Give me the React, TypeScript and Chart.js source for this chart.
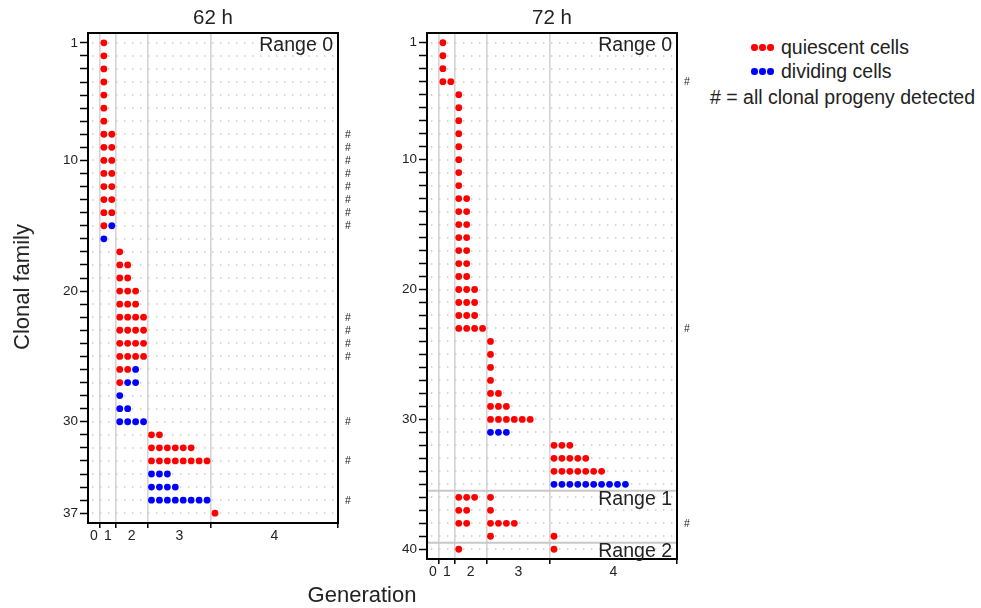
import React, { useEffect, useRef } from 'react';
import { Chart, registerables } from 'chart.js';

Chart.register(...registerables);

const FONT = '"Liberation Sans", Arial, Helvetica, sans-serif';
const TEXT = '#222222';
const QUIESCENT_COLOR = '#ff0000';
const DIVIDING_COLOR = '#0000ff';

// Generation axis: each generation gets room for 2^g cells
const GENERATIONS = [0, 1, 2, 3, 4];
const GEN_CAPACITY = [1, 2, 4, 8, 16];
const X_MIN = -1.5;

// ---- 62 h ----
const family62 = [1, 2, 3, 4, 5, 6, 7, 8, 9, 10, 11, 12, 13, 14, 15, 16, 17, 18, 19, 20, 21, 22, 23, 24, 25, 26, 27, 28, 29, 30, 31, 32, 33, 34, 35, 36, 37];
const gen62 = [1, 1, 1, 1, 1, 1, 1, 1, 1, 1, 1, 1, 1, 1, 1, 1, 2, 2, 2, 2, 2, 2, 2, 2, 2, 2, 2, 2, 2, 2, 3, 3, 3, 3, 3, 3, 4];
const quiescent62 = [1, 1, 1, 1, 1, 1, 1, 2, 2, 2, 2, 2, 2, 2, 1, 0, 1, 2, 2, 3, 3, 4, 4, 4, 4, 2, 1, 0, 0, 0, 2, 6, 8, 0, 0, 0, 1];
const dividing62 = [0, 0, 0, 0, 0, 0, 0, 0, 0, 0, 0, 0, 0, 0, 1, 1, 0, 0, 0, 0, 0, 0, 0, 0, 0, 1, 2, 1, 2, 4, 0, 0, 0, 3, 4, 8, 0];
const complete62 = [8, 9, 10, 11, 12, 13, 14, 15, 22, 23, 24, 25, 30, 33, 36];
const yLabels62 = [1, 10, 20, 30, 37];
const ranges62 = [{ name: 'Range 0', start: 1 }];

// ---- 72 h ----
const family72 = [1, 2, 3, 4, 5, 6, 7, 8, 9, 10, 11, 12, 13, 14, 15, 16, 17, 18, 19, 20, 21, 22, 23, 24, 25, 26, 27, 28, 29, 30, 31, 32, 33, 34, 35, 36, 36, 37, 37, 38, 38, 39, 39, 40, 40];
const gen72 = [1, 1, 1, 1, 2, 2, 2, 2, 2, 2, 2, 2, 2, 2, 2, 2, 2, 2, 2, 2, 2, 2, 2, 3, 3, 3, 3, 3, 3, 3, 3, 4, 4, 4, 4, 2, 3, 2, 3, 2, 3, 3, 4, 2, 4];
const quiescent72 = [1, 1, 1, 2, 1, 1, 1, 1, 1, 1, 1, 1, 2, 2, 2, 2, 2, 2, 2, 3, 3, 3, 4, 1, 1, 1, 1, 2, 3, 6, 0, 3, 5, 7, 0, 3, 1, 2, 1, 2, 4, 1, 1, 1, 1];
const dividing72 = [0, 0, 0, 0, 0, 0, 0, 0, 0, 0, 0, 0, 0, 0, 0, 0, 0, 0, 0, 0, 0, 0, 0, 0, 0, 0, 0, 0, 0, 0, 3, 0, 0, 0, 10, 0, 0, 0, 0, 0, 0, 0, 0, 0, 0];
const complete72 = [4, 23, 38];
const yLabels72 = [1, 10, 20, 30, 40];
const ranges72 = [
  { name: 'Range 0', start: 1 },
  { name: 'Range 1', start: 36 },
  { name: 'Range 2', start: 40 },
];

const genStart = (g: number) => GEN_CAPACITY.slice(0, g).reduce((s, v) => s + v, 0) - 1;
const genEnd = (g: number) => genStart(g) + GEN_CAPACITY[g];
const X_MAX = genEnd(GENERATIONS.length - 1);
const BOUNDARIES = GENERATIONS.map(genEnd);
const LABEL_POS = GENERATIONS.map((g) => (g === 0 ? (X_MIN + genEnd(0)) / 2 : (genStart(g) + genEnd(g)) / 2));

type PanelSpec = {
  title: string;
  family: number[];
  gen: number[];
  quiescent: number[];
  dividing: number[];
  complete: number[];
  yLabels: number[];
  ranges: { name: string; start: number }[];
};

function buildPoints(spec: PanelSpec) {
  const q: { x: number; y: number }[] = [];
  const d: { x: number; y: number }[] = [];
  spec.family.forEach((f, i) => {
    const start = genStart(spec.gen[i]);
    const total = spec.quiescent[i] + spec.dividing[i];
    for (let k = 0; k < total; k++) {
      const p = { x: start + k + 0.5, y: f };
      (k < spec.quiescent[i] ? q : d).push(p);
    }
  });
  return { q, d };
}

function makeDecor(spec: PanelSpec, nRows: number) {
  return {
    id: 'panelDecor',
    beforeDatasetsDraw(chart: any) {
      const { ctx, chartArea: a, scales } = chart;
      const y = scales.y;
      ctx.save();
      // dotted row guides
      ctx.fillStyle = '#c6c6c6';
      for (let r = 1; r <= nRows; r++) {
        const py = Math.round(y.getPixelForValue(r));
        for (let px = a.left + 4; px < a.right - 2; px += 8) {
          ctx.fillRect(px, py - 0.7, 1.4, 1.4);
        }
      }
      // range separators
      ctx.strokeStyle = '#c8c8c8';
      ctx.lineWidth = 2;
      spec.ranges.slice(1).forEach((rg) => {
        const py = y.getPixelForValue(rg.start - 0.5);
        ctx.beginPath();
        ctx.moveTo(a.left, py);
        ctx.lineTo(a.right, py);
        ctx.stroke();
      });
      ctx.restore();
    },
    afterDatasetsDraw(chart: any) {
      const { ctx, chartArea: a, scales } = chart;
      const y = scales.y;
      ctx.save();
      // frame
      ctx.strokeStyle = '#000';
      ctx.lineWidth = 2;
      ctx.strokeRect(a.left, a.top, a.right - a.left, a.bottom - a.top);
      // complete-progeny marks
      ctx.fillStyle = TEXT;
      ctx.font = `10.5px ${FONT}`;
      ctx.textAlign = 'left';
      ctx.textBaseline = 'middle';
      spec.complete.forEach((f) => {
        ctx.fillText('#', a.right + 7, y.getPixelForValue(f) + 0.5);
      });
      // range names
      ctx.font = `19.5px ${FONT}`;
      ctx.textAlign = 'right';
      spec.ranges.forEach((rg) => {
        ctx.fillText(rg.name, a.right - 5, y.getPixelForValue(rg.start) + 2.5);
      });
      // panel title
      ctx.font = `20.5px ${FONT}`;
      ctx.textAlign = 'center';
      ctx.fillText(spec.title, (a.left + a.right) / 2, 18);
      ctx.restore();
    },
  };
}

function Panel({ spec, left, width, padding }: { spec: PanelSpec; left: number; width: number; padding: any }) {
  const ref = useRef<HTMLCanvasElement>(null);
  useEffect(() => {
    const nRows = Math.max(...spec.family);
    const { q, d } = buildPoints(spec);
    const rows = Array.from({ length: nRows }, (_, i) => i + 1);
    const xTicks = [...BOUNDARIES, ...LABEL_POS].sort((m, n) => m - n);
    const isBoundary = (v: number) => BOUNDARIES.includes(v);
    const chart = new Chart(ref.current as HTMLCanvasElement, {
      type: 'scatter',
      data: {
        datasets: [
          { label: 'quiescent cells', data: q, backgroundColor: QUIESCENT_COLOR, pointRadius: 3.4, pointBorderWidth: 0, pointHoverRadius: 3.4 },
          { label: 'dividing cells', data: d, backgroundColor: DIVIDING_COLOR, pointRadius: 3.4, pointBorderWidth: 0, pointHoverRadius: 3.4 },
        ],
      },
      options: {
        animation: false,
        responsive: false,
        events: [],
        layout: { padding },
        plugins: { legend: { display: false }, title: { display: false }, tooltip: { enabled: false } },
        scales: {
          x: {
            type: 'linear',
            min: X_MIN,
            max: X_MAX,
            afterBuildTicks: (s: any) => {
              s.ticks = xTicks.map((v) => ({ value: v }));
            },
            afterFit: (s: any) => {
              s.height = 24;
            },
            border: { display: false },
            grid: {
              color: (c: any) => {
                const v = c.tick ? c.tick.value : NaN;
                return isBoundary(v) && v < X_MAX ? '#d4d4d4' : 'rgba(0,0,0,0)';
              },
              lineWidth: 1.6,
              tickColor: (c: any) => (c.tick && isBoundary(c.tick.value) ? '#000' : 'rgba(0,0,0,0)'),
              tickLength: 5,
              tickWidth: 1.5,
            },
            ticks: {
              autoSkip: false,
              maxRotation: 0,
              padding: 0,
              color: TEXT,
              font: { family: FONT, size: 14 },
              callback: (v: any) => {
                const i = LABEL_POS.indexOf(Number(v));
                return i >= 0 ? String(GENERATIONS[i]) : '';
              },
            },
          },
          y: {
            type: 'linear',
            reverse: true,
            min: 0.25,
            max: nRows + 0.75,
            afterBuildTicks: (s: any) => {
              s.ticks = rows.map((v) => ({ value: v }));
            },
            afterFit: (s: any) => {
              s.width = 40;
            },
            border: { display: false },
            grid: {
              drawOnChartArea: false,
              color: '#000',
              tickColor: '#000',
              tickLength: 8,
              tickWidth: 1.5,
            },
            ticks: {
              autoSkip: false,
              padding: 2,
              color: TEXT,
              font: { family: FONT, size: 13.5 },
              callback: (v: any) => (spec.yLabels.includes(Number(v)) ? String(v) : ''),
            },
          },
        },
      },
      plugins: [makeDecor(spec, nRows)],
    } as any);
    return () => chart.destroy();
  }, []);
  return (
    <canvas
      ref={ref}
      width={width}
      height={608}
      style={{ position: 'absolute', left, top: 0, width, height: 608, display: 'block' }}
    />
  );
}

const panel62: PanelSpec = {
  title: '62 h',
  family: family62,
  gen: gen62,
  quiescent: quiescent62,
  dividing: dividing62,
  complete: complete62,
  yLabels: yLabels62,
  ranges: ranges62,
};

const panel72: PanelSpec = {
  title: '72 h',
  family: family72,
  gen: gen72,
  quiescent: quiescent72,
  dividing: dividing72,
  complete: complete72,
  yLabels: yLabels72,
  ranges: ranges72,
};

function Dots({ color, left, top }: { color: string; left: number; top: number }) {
  return (
    <div style={{ position: 'absolute', left, top, display: 'flex' }}>
      {[0, 1, 2].map((i) => (
        <span
          key={i}
          style={{ width: 6.5, height: 6.5, borderRadius: '50%', background: color, marginRight: 1.5, display: 'inline-block' }}
        />
      ))}
    </div>
  );
}

const textStyle: React.CSSProperties = {
  position: 'absolute',
  fontFamily: FONT,
  color: TEXT,
  whiteSpace: 'nowrap',
  lineHeight: '22px',
};

export default function App() {
  return (
    <div style={{ position: 'absolute', left: 0, top: 0, width: 981, height: 608, background: '#fff', overflow: 'hidden' }}>
      <Panel spec={panel62} left={0} width={370} padding={{ top: 33, left: 48, right: 32, bottom: 61 }} />
      <Panel spec={panel72} left={370} width={330} padding={{ top: 33, left: 17, right: 23, bottom: 25 }} />

      <Dots color={QUIESCENT_COLOR} left={751} top={44} />
      <div style={{ ...textStyle, left: 781, top: 36, fontSize: 19.5 }}>quiescent cells</div>
      <Dots color={DIVIDING_COLOR} left={751} top={68} />
      <div style={{ ...textStyle, left: 781, top: 60, fontSize: 19.5 }}>dividing cells</div>
      <div style={{ ...textStyle, left: 710, top: 86, fontSize: 19.5 }}># = all clonal progeny detected</div>

      <div
        style={{
          ...textStyle,
          left: 22,
          top: 287,
          fontSize: 22,
          transform: 'translate(-50%, -50%) rotate(-90deg)',
        }}
      >
        Clonal family
      </div>
      <div style={{ ...textStyle, left: 362, top: 595, fontSize: 22, transform: 'translate(-50%, -50%)' }}>Generation</div>
    </div>
  );
}
